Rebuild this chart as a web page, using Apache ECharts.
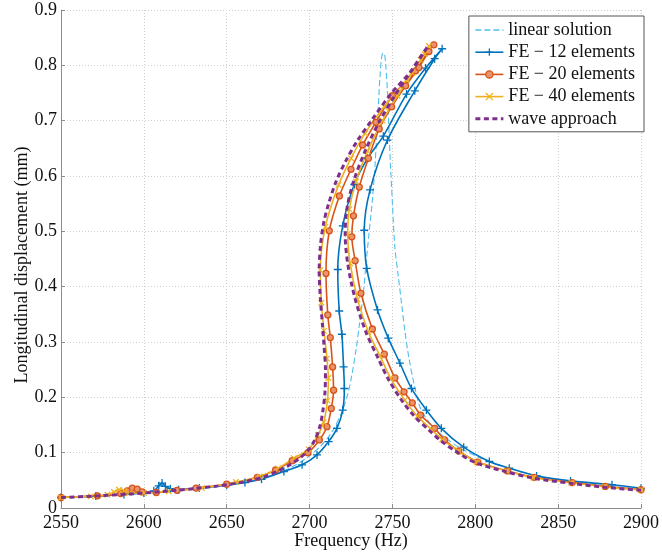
<!DOCTYPE html>
<html>
<head>
<meta charset="utf-8">
<script src="https://cdn.jsdelivr.net/npm/echarts@6/dist/echarts.min.js"></script>
<style>
  html, body { margin: 0; padding: 0; background: #fff; }
  #chart { width: 662px; height: 556px; }
</style>
</head>
<body>
<div id="chart"></div>
<script>
// Axis ticks
const xTicks = [2550, 2600, 2650, 2700, 2750, 2800, 2850, 2900];
const yTicks = [0, 0.1, 0.2, 0.3, 0.4, 0.5, 0.6, 0.7, 0.8, 0.9];

const seriesNames = ['linear solution', 'FE \u2212 12 elements', 'FE \u2212 20 elements', 'FE \u2212 40 elements', 'wave approach'];

// Each response curve is listed as [frequency (Hz), amplitude (mm)] in path order:
// low frequency -> left branch up -> top -> right branch down -> high frequency.
const linearSolution = [
  [2550, 0.019], [2570, 0.0215], [2590, 0.025], [2610, 0.029], [2630, 0.034], [2650, 0.041],
  [2665, 0.049], [2677, 0.059], [2688, 0.072], [2698, 0.09], [2706, 0.11], [2713, 0.135],
  [2719, 0.17], [2723, 0.205], [2725.5, 0.24], [2728, 0.285], [2730, 0.33], [2732.5, 0.39],
  [2734, 0.44], [2736, 0.50], [2738, 0.56], [2739.5, 0.62], [2741, 0.70], [2742.5, 0.78],
  [2743.5, 0.815], [2744.3, 0.822], [2745.2, 0.82], [2746, 0.80], [2747, 0.75], [2748.5, 0.64],
  [2750, 0.55], [2751.5, 0.47], [2753.5, 0.42], [2755.5, 0.37], [2757.5, 0.32], [2760, 0.27],
  [2763, 0.225], [2767, 0.18], [2775, 0.145], [2790, 0.11], [2810, 0.082], [2835, 0.06],
  [2860, 0.047], [2880, 0.04], [2900, 0.034]
];

const fe12 = [
  [2550, 0.019], [2571, 0.0215], [2588, 0.0245], [2600, 0.027], [2606, 0.031], [2609, 0.040],
  [2611, 0.045], [2613, 0.039], [2616, 0.035], [2621, 0.033], [2633.5, 0.036], [2650, 0.041],
  [2661, 0.046], [2671, 0.052], [2684.5, 0.066], [2695.5, 0.078], [2704.5, 0.096], [2711.5, 0.12],
  [2716.5, 0.144], [2720, 0.177], [2721, 0.216], [2720.5, 0.255], [2719.5, 0.314], [2717.9, 0.356],
  [2717, 0.431], [2720, 0.51], [2727, 0.585], [2735, 0.632], [2744.5, 0.672], [2758.5, 0.748],
  [2770, 0.795], [2780, 0.830], [2775.5, 0.812], [2763.5, 0.754], [2747, 0.665], [2736.5, 0.575],
  [2733, 0.502], [2734.5, 0.433], [2741, 0.358], [2747.5, 0.307], [2754.5, 0.262], [2761.5, 0.216],
  [2770.5, 0.177], [2779.5, 0.144], [2793, 0.11], [2808.5, 0.084], [2820.5, 0.072], [2837, 0.058],
  [2857.5, 0.049], [2882.5, 0.042], [2900, 0.0356]
];

const fe20 = [
  [2550, 0.019], [2572, 0.022], [2586, 0.026], [2590, 0.031], [2593, 0.036], [2596, 0.034],
  [2599, 0.029], [2607.5, 0.028], [2620, 0.032], [2631.5, 0.036], [2650, 0.043], [2668.5, 0.0555],
  [2679.5, 0.0687], [2689.5, 0.0855], [2699, 0.1], [2705.9, 0.123], [2710.5, 0.147], [2713.1, 0.18],
  [2714.5, 0.213], [2713.9, 0.255], [2712.5, 0.308], [2711, 0.349], [2709.9, 0.424], [2711.9, 0.501],
  [2718, 0.564], [2725, 0.612], [2732, 0.656], [2740, 0.697], [2750, 0.745], [2764, 0.79],
  [2771.5, 0.825], [2775, 0.837], [2772, 0.825], [2766, 0.796], [2758, 0.763], [2749.5, 0.725],
  [2742, 0.685], [2735.5, 0.632], [2730, 0.58], [2726.5, 0.528], [2725.5, 0.49], [2727.5, 0.447],
  [2731, 0.388], [2737.9, 0.3235], [2745.1, 0.278], [2751.5, 0.235], [2757, 0.21], [2762, 0.19],
  [2767, 0.168], [2775.5, 0.144], [2781.5, 0.123], [2790, 0.103], [2801.5, 0.083], [2819.5, 0.067],
  [2835.5, 0.0555], [2858.5, 0.046], [2878.5, 0.039], [2900, 0.033]
];

const fe40 = [
  [2550, 0.019], [2568, 0.021], [2578, 0.024], [2582, 0.029], [2585, 0.033], [2588, 0.031],
  [2591, 0.027], [2600, 0.027], [2615, 0.030], [2635, 0.036], [2655.5, 0.047], [2670, 0.057],
  [2681, 0.0717], [2690.5, 0.09], [2699.5, 0.106], [2705, 0.132], [2708.5, 0.155], [2710.8, 0.194],
  [2711.3, 0.235], [2710.5, 0.27], [2708.7, 0.32], [2707.1, 0.371], [2706.5, 0.43], [2709.5, 0.508],
  [2717.5, 0.584], [2725, 0.632], [2733.5, 0.677], [2745, 0.725], [2758.5, 0.774], [2767, 0.81],
  [2772, 0.835], [2769.5, 0.82], [2762, 0.786], [2753, 0.745], [2744, 0.70], [2735, 0.645],
  [2728, 0.59], [2724, 0.54], [2723, 0.495], [2724.5, 0.442], [2729, 0.377], [2735.5, 0.318],
  [2742.5, 0.275], [2749, 0.234], [2757.5, 0.195], [2765, 0.166], [2773.5, 0.142], [2780, 0.124],
  [2790, 0.103], [2801, 0.083], [2819, 0.067], [2835, 0.055], [2858, 0.0455], [2878, 0.0385],
  [2900, 0.0325]
];

const waveApproach = [
  [2550, 0.019], [2570, 0.0215], [2590, 0.025], [2610, 0.0295], [2630, 0.035], [2645, 0.040],
  [2660, 0.047], [2672, 0.056], [2681, 0.067], [2688, 0.078], [2694, 0.09], [2699, 0.104],
  [2703, 0.122], [2706, 0.145], [2708, 0.175], [2709.3, 0.21], [2709.6, 0.25], [2708.8, 0.29],
  [2707.8, 0.33], [2706.5, 0.38], [2705.8, 0.43], [2706.6, 0.475], [2708.5, 0.515], [2711.5, 0.55],
  [2716, 0.59], [2722, 0.628], [2728.5, 0.662], [2737.5, 0.701], [2749.5, 0.75], [2761.5, 0.79],
  [2769.5, 0.826], [2771.5, 0.835], [2767.5, 0.818], [2760, 0.784], [2751, 0.743], [2742, 0.698],
  [2733.5, 0.645], [2726.5, 0.59], [2722.5, 0.54], [2721.5, 0.495], [2723, 0.442], [2727.5, 0.378],
  [2734, 0.318], [2741, 0.273], [2747.5, 0.233], [2755.5, 0.195], [2763.5, 0.165], [2772, 0.141],
  [2779, 0.122], [2789, 0.101], [2800, 0.082], [2818, 0.066], [2835, 0.054], [2858, 0.0445],
  [2878, 0.0375], [2900, 0.032]
];

const FONT = "'Liberation Serif', 'Times New Roman', serif";
const AXIS_GREY = '#8c8c8c';
const GRID_GREY = '#cfcfcf';

const COLORS = {
  linear: '#4DBEEE',
  fe12: '#0072BD',
  fe20: '#D95319',
  fe20Fill: '#E8946C',
  fe40: '#EDB120',
  wave: '#7E2F8E'
};

const PLUS = 'path://M0,5L10,5M5,0L5,10';
const CROSS = 'path://M0,0L10,10M10,0L0,10';

function markedSeries(name, data, color, fill, symbol, size, bw) {
  return {
    name, type: 'line', data,
    smooth: 0.3,
    symbol, symbolSize: size, showSymbol: true,
    lineStyle: { color, width: 1.6 },
    itemStyle: { color: fill, borderColor: color, borderWidth: bw },
    emphasis: { disabled: true },
    z: 2
  };
}

const chart = echarts.init(document.getElementById('chart'), null, { renderer: 'canvas' });

chart.setOption({
  animation: false,
  backgroundColor: '#fff',
  grid: { left: 61, right: 18, top: 10, bottom: 48, containLabel: false },
  xAxis: {
    type: 'value',
    min: xTicks[0], max: xTicks[xTicks.length - 1], interval: xTicks[1] - xTicks[0],
    name: 'Frequency (Hz)', nameLocation: 'middle', nameGap: 24, nameMoveOverlap: false,
    nameTextStyle: { fontFamily: FONT, fontSize: 18, color: '#111' },
    axisLine: { show: true, onZero: false, lineStyle: { color: AXIS_GREY, width: 1 } },
    axisTick: { show: true, inside: true, length: 4, lineStyle: { color: AXIS_GREY } },
    axisLabel: { fontFamily: FONT, fontSize: 18, color: '#111', margin: 6, formatter: v => String(v) },
    splitLine: { show: true, lineStyle: { color: GRID_GREY, width: 1, type: [1, 2] } }
  },
  yAxis: {
    type: 'value',
    min: yTicks[0], max: yTicks[yTicks.length - 1], interval: 0.1,
    name: 'Longitudinal displacement (mm)', nameLocation: 'middle', nameGap: 30, nameMoveOverlap: false,
    nameTextStyle: { fontFamily: FONT, fontSize: 18, color: '#111', padding: [0, 12, 0, 0] },
    axisLine: { show: true, onZero: false, lineStyle: { color: AXIS_GREY, width: 1 } },
    axisTick: { show: true, inside: true, length: 4, lineStyle: { color: AXIS_GREY } },
    axisLabel: {
      fontFamily: FONT, fontSize: 18, color: '#111', margin: 4,
      formatter: v => String(Math.round(v * 10) / 10)
    },
    splitLine: { show: true, lineStyle: { color: GRID_GREY, width: 1, type: [1, 2] } }
  },
  legend: {
    orient: 'vertical',
    right: 18, top: 16,
    backgroundColor: '#fff',
    borderColor: '#555', borderWidth: 1,
    padding: [5, 9, 4, 5],
    itemWidth: 28, itemHeight: 9, itemGap: 4.2,
    textStyle: { fontFamily: FONT, fontSize: 18, color: '#111' },
    selectedMode: false,
    data: [
      { name: seriesNames[0], itemStyle: { opacity: 0 }, lineStyle: { width: 1.3 } },
      { name: seriesNames[1], lineStyle: { width: 1.6 }, itemStyle: { borderWidth: 1.3 } },
      { name: seriesNames[2], lineStyle: { width: 1.6 }, itemStyle: { borderWidth: 1.3 } },
      { name: seriesNames[3], lineStyle: { width: 1.6 }, itemStyle: { borderWidth: 1.2 } },
      { name: seriesNames[4], itemStyle: { opacity: 0 }, lineStyle: { width: 3 } }
    ]
  },
  series: [
    {
      name: seriesNames[0], type: 'line', data: linearSolution,
      smooth: 0.3, symbol: 'none',
      lineStyle: { color: COLORS.linear, width: 1.1, type: [6, 3] },
      itemStyle: { color: COLORS.linear },
      emphasis: { disabled: true }, z: 1
    },
    markedSeries(seriesNames[1], fe12, COLORS.fe12, COLORS.fe12, PLUS, 8, 1.3),
    markedSeries(seriesNames[2], fe20, COLORS.fe20, COLORS.fe20Fill, 'circle', 6, 1.3),
    markedSeries(seriesNames[3], fe40, COLORS.fe40, COLORS.fe40, CROSS, 5.5, 1.2),
    {
      name: seriesNames[4], type: 'line', data: waveApproach,
      smooth: 0.3, symbol: 'none',
      lineStyle: { color: COLORS.wave, width: 3, type: [5, 3.5] },
      itemStyle: { color: COLORS.wave },
      emphasis: { disabled: true }, z: 3
    }
  ]
});
</script>
</body>
</html>
